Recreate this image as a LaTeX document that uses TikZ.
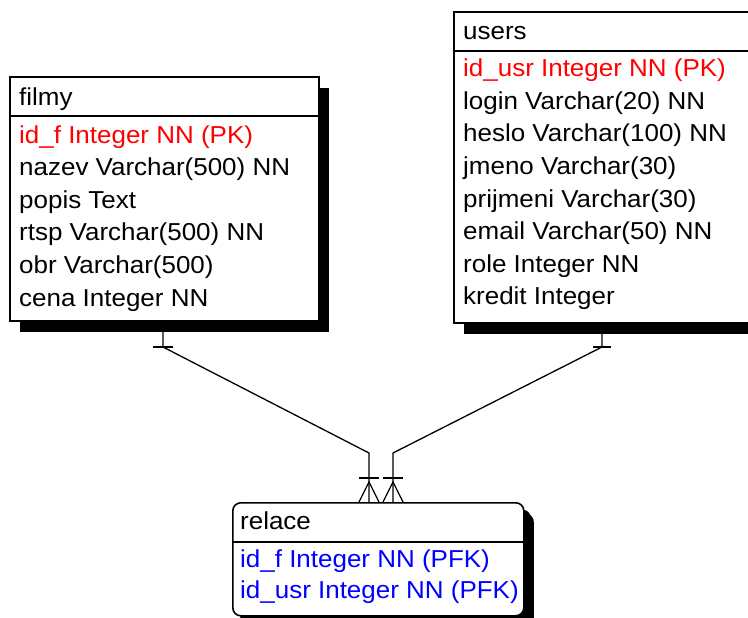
\documentclass[tikz,border=0pt]{standalone}
\usepackage{fontspec}
\setmainfont[FakeStretch=1.06]{Liberation Sans}
\usetikzlibrary{shadows}
\tikzset{
	entity/.style={draw, line width=1.6pt, fill=white, anchor=north west, inner sep=0pt,
		drop shadow={shadow xshift=10pt, shadow yshift=-11pt, fill=black, opacity=1}},
	weakentity/.style={entity, rounded corners=8pt,
		drop shadow={shadow xshift=7pt, shadow yshift=-7pt, fill=black, opacity=1}},
	attr/.style={anchor=base west, inner sep=0pt, font=\fontsize{24.5}{26}\selectfont},
	pk/.style={attr, text=red},
	pfk/.style={attr, text=blue},
	rel/.style={line width=1.3pt},
}
\begin{document}
\begin{tikzpicture}[x=1pt, y=-1pt]
		\path[use as bounding box, clip] (0,0) rectangle (748,618);
		
		\node[entity, minimum width=309pt, minimum height=244pt] (filmy) at (9,76) {};
		\node[entity, minimum width=330pt, minimum height=311pt] (users) at (453,11) {};
		\node[weakentity, minimum width=291pt, minimum height=113pt] (relace) at (232,502) {};
		
		\draw[line width=1.6pt] ([yshift=-40pt]filmy.north west) -- ([yshift=-40pt]filmy.north east);
		\draw[line width=1.6pt] ([yshift=-40pt]users.north west) -- ([yshift=-40pt]users.north east);
		\draw[line width=1.6pt] ([yshift=-40pt]relace.north west) -- ([yshift=-40pt]relace.north east);
		
		\node[attr] (fname) at (19,106) {filmy};
		\node[pk] (fid) at (19,143) {id\_f Integer NN (PK)};
		\node[attr] (fnazev) at (19,175.6) {nazev Varchar(500) NN};
		\node[attr] (fpopis) at (19,208.2) {popis Text};
		\node[attr] (frtsp) at (19,240.8) {rtsp Varchar(500) NN};
		\node[attr] (fobr) at (19,273.4) {obr Varchar(500)};
		\node[attr] (fcena) at (19,306) {cena Integer NN};
		
		\node[attr] (uname) at (463,40) {users};
		\node[pk] (uid) at (463,77) {id\_usr Integer NN (PK)};
		\node[attr] (ulogin) at (463,109.5) {login Varchar(20) NN};
		\node[attr] (uheslo) at (463,142) {heslo Varchar(100) NN};
		\node[attr] (ujmeno) at (463,174.5) {jmeno Varchar(30)};
		\node[attr] (uprijmeni) at (463,207) {prijmeni Varchar(30)};
		\node[attr] (uemail) at (463,239.5) {email Varchar(50) NN};
		\node[attr] (urole) at (463,272) {role Integer NN};
		\node[attr] (ukredit) at (463,304.5) {kredit Integer};
		
		\node[attr] (rname) at (240,529) {relace};
		\node[pfk] (rfid) at (240,567) {id\_f Integer NN (PFK)};
		\node[pfk] (ruid) at (240,598) {id\_usr Integer NN (PFK)};
		
		\coordinate (f1) at (163,347);
		\coordinate (f2) at (369,453);
		\coordinate (f3) at (369,482);
		\coordinate (u1) at (602,347);
		\coordinate (u2) at (393,453);
		\coordinate (u3) at (393,482);
		
		\draw[rel] (filmy.south -| f1) -- (f1) -- (f2) -- (relace.north -| f2);
		\draw[rel] ([xshift=-10pt]f1) -- ([xshift=10pt]f1);
		\draw[rel] ([xshift=-10pt,yshift=-25pt]f2) -- ([xshift=10pt,yshift=-25pt]f2);
		\draw[rel] ([xshift=-10pt]relace.north -| f3) -- (f3) -- ([xshift=10pt]relace.north -| f3);
		
		\draw[rel] (users.south -| u1) -- (u1) -- (u2) -- (relace.north -| u2);
		\draw[rel] ([xshift=-9pt]u1) -- ([xshift=9pt]u1);
		\draw[rel] ([xshift=-10pt,yshift=-25pt]u2) -- ([xshift=10pt,yshift=-25pt]u2);
		\draw[rel] ([xshift=-10pt]relace.north -| u3) -- (u3) -- ([xshift=10pt]relace.north -| u3);
\end{tikzpicture}
\end{document}
